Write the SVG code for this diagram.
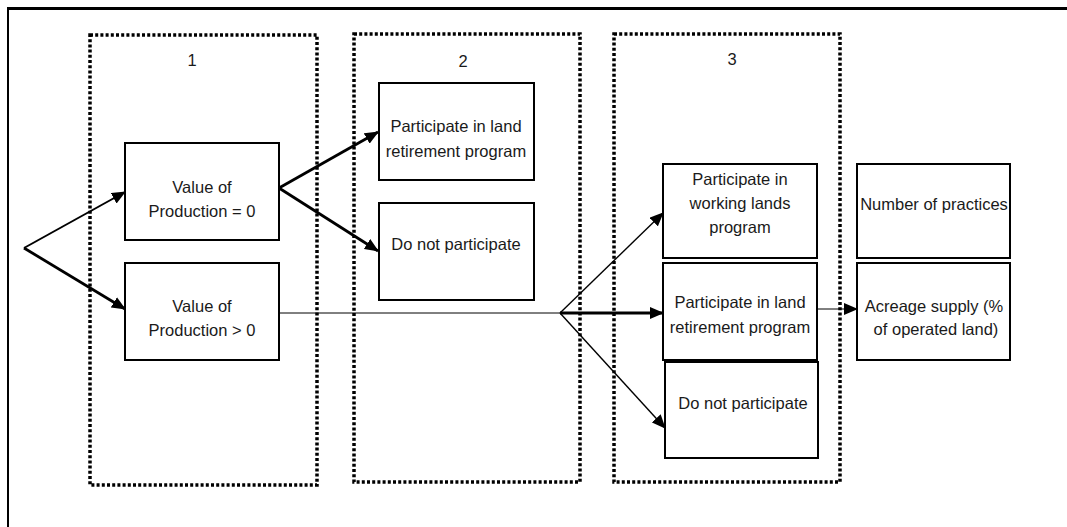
<svg xmlns="http://www.w3.org/2000/svg" width="1067" height="527" viewBox="0 0 1067 527">
<style>
.frame{stroke:#000;fill:none}
.stage{fill:none;stroke:#000;stroke-width:3.5;stroke-dasharray:3 2.2}
.node{fill:#fff;stroke:#000;stroke-width:2}
.t{font-family:"Liberation Sans",Arial,sans-serif;font-size:16.5px;fill:#1a1a1a;text-anchor:middle}
.thick{stroke:#000;stroke-width:2.8;fill:none}
.mid{stroke:#000;stroke-width:2;fill:none}
.thin{stroke:#000;stroke-width:1.4;fill:none}
.hair{stroke:#000;stroke-width:1;fill:none}
</style>
<defs>
<marker id="ah" markerUnits="userSpaceOnUse" markerWidth="14" markerHeight="12" viewBox="0 0 14 12" refX="13" refY="6" orient="auto">
<path d="M0,0 L14,6 L0,12 z" fill="#000"/>
</marker>
</defs>
<g id="frame">
<line class="frame" x1="8" y1="8.5" x2="1067" y2="8.5" stroke-width="3"/>
<line class="frame" x1="8" y1="7" x2="8" y2="527" stroke-width="2"/>
</g>
<g id="stage1">
<rect class="stage" x="90" y="35" width="227" height="450"/>
<text class="t" x="192" y="66">1</text>
</g>
<g id="stage2">
<rect class="stage" x="354" y="34" width="226" height="448"/>
<text class="t" x="463" y="67">2</text>
</g>
<g id="stage3">
<rect class="stage" x="614" y="34" width="226" height="448"/>
<text class="t" x="732" y="65">3</text>
</g>
<g id="connectors">
<line class="mid" x1="24" y1="248" x2="125" y2="192" marker-end="url(#ah)"/>
<line class="thick" x1="24" y1="248" x2="125" y2="309" marker-end="url(#ah)"/>
<line class="thick" x1="279" y1="188" x2="378" y2="132" marker-end="url(#ah)"/>
<line class="thick" x1="279" y1="188" x2="378" y2="251" marker-end="url(#ah)"/>
<line class="hair" x1="279" y1="313" x2="560" y2="313"/>
<line class="thin" x1="560" y1="313" x2="663" y2="213" marker-end="url(#ah)"/>
<line class="thick" x1="560" y1="313" x2="663" y2="313" marker-end="url(#ah)"/>
<line class="thin" x1="560" y1="313" x2="665" y2="428" marker-end="url(#ah)"/>
<line class="hair" x1="817" y1="309" x2="857" y2="309" marker-end="url(#ah)"/>
</g>
<g id="vop0">
<rect class="node" x="125" y="143" width="154" height="97"/>
<text class="t" x="202" y="193">Value of</text>
<text class="t" x="202" y="217">Production = 0</text>
</g>
<g id="vop1">
<rect class="node" x="125" y="263" width="154" height="97"/>
<text class="t" x="202" y="312">Value of</text>
<text class="t" x="202" y="336">Production &gt; 0</text>
</g>
<g id="s2-retire">
<rect class="node" x="379" y="83" width="155" height="97"/>
<text class="t" x="456" y="132">Participate in land</text>
<text class="t" x="456" y="157">retirement program</text>
</g>
<g id="s2-no">
<rect class="node" x="379" y="203" width="155" height="97"/>
<text class="t" x="456" y="250">Do not participate</text>
</g>
<g id="s3-working">
<rect class="node" x="663" y="164" width="154" height="94"/>
<text class="t" x="740" y="185">Participate in</text>
<text class="t" x="740" y="209">working lands</text>
<text class="t" x="740" y="233">program</text>
</g>
<g id="s3-retire">
<rect class="node" x="663" y="263" width="154" height="97"/>
<text class="t" x="740" y="308">Participate in land</text>
<text class="t" x="740" y="333">retirement program</text>
</g>
<g id="s3-no">
<rect class="node" x="665" y="362" width="153" height="96"/>
<text class="t" x="743" y="409">Do not participate</text>
</g>
<g id="practices">
<rect class="node" x="857" y="164" width="153" height="94"/>
<text class="t" x="934" y="210">Number of practices</text>
</g>
<g id="acreage">
<rect class="node" x="857" y="263" width="153" height="97"/>
<text class="t" x="934" y="312">Acreage supply (%</text>
<text class="t" x="936" y="335">of operated land)</text>
</g>
</svg>
